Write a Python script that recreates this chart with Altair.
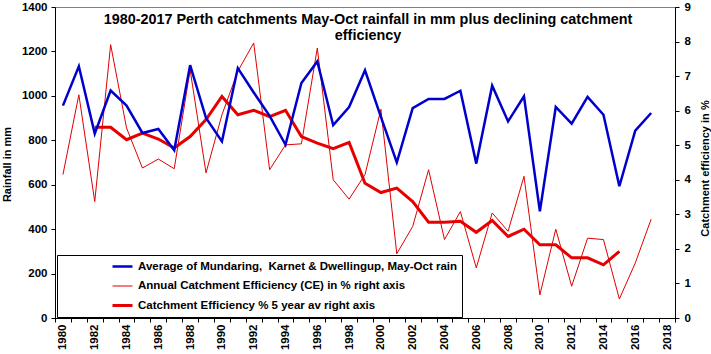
import altair as alt
import pandas as pd

# ---------------- data ----------------
years = list(range(1980, 2018))
rain = [956, 1133, 830, 1024, 956, 833, 851, 755, 1138, 900,
        795, 1125, 1015, 910, 780, 1058, 1155, 868, 950, 1115,
        905, 700, 945, 986, 986, 1023, 695, 1046, 885, 998,
        480, 950, 875, 995, 915, 593, 843, 923]
ce_annual = [4.15, 6.46, 3.37, 7.91, 5.5, 4.34, 4.6, 4.32, 7.18, 4.2,
             5.88, 7.14, 7.96, 4.29, 5.01, 5.04, 7.81, 4.0, 3.44, 4.15,
             6.04, 1.86, 2.65, 4.29, 2.27, 3.08, 1.45, 3.04, 2.51, 4.10,
             0.67, 2.57, 0.92, 2.31, 2.27, 0.55, 1.59, 2.86]
ce5_years = list(range(1982, 2016))
ce5 = [5.52, 5.52, 5.16, 5.35, 5.18, 4.92, 5.25, 5.74,
       6.41, 5.88, 6.01, 5.83, 6.01, 5.25, 5.06, 4.9, 5.08, 3.9,
       3.63, 3.76, 3.37, 2.77, 2.77, 2.80, 2.48, 2.82, 2.36, 2.57,
       2.12, 2.12, 1.74, 1.74, 1.54, 1.93]
axis_years = list(range(1980, 2019))
left_ticks = list(range(0, 1401, 200))
right_ticks = list(range(0, 10))

S_RAIN = "Average of Mundaring,\u00a0 Karnet & Dwellingup, May-Oct rain"
S_CE = "Annual Catchment Efficiency (CE) in % right axis"
S_CE5 = "Catchment Efficiency % 5 year av right axis"
series_order = [S_RAIN, S_CE, S_CE5]
series_colors = ["#0000CC", "#E00000", "#E60000"]
series_widths = [2.5, 1, 3]

title_lines = ["1980-2017 Perth catchments May-Oct rainfall in mm plus declining catchment",
               "efficiency"]

df_rain = pd.DataFrame({"year": years, "value": rain, "series": S_RAIN})
df_red = pd.concat([
    pd.DataFrame({"year": years, "value": ce_annual, "series": S_CE}),
    pd.DataFrame({"year": ce5_years, "value": ce5, "series": S_CE5}),
])

FONT = "Liberation Sans"

x_enc = alt.X(
    "year:O",
    scale=alt.Scale(type="band", domain=axis_years, paddingInner=0, paddingOuter=0),
    bandPosition=0.5,
    axis=alt.Axis(
        title=None, values=axis_years,
        labelExpr="datum.value % 2 == 0 ? datum.label : ''",
        labelAngle=270, tickBand="extent", labelPadding=2,
    ),
)
color_enc = alt.Color("series:N", scale=alt.Scale(domain=series_order, range=series_colors),
                      legend=alt.Legend(title=None))
width_enc = alt.StrokeWidth("series:N",
                            scale=alt.Scale(type="ordinal", domain=series_order, range=series_widths),
                            legend=alt.Legend(title=None))

blue = alt.Chart(df_rain).mark_line().encode(
    x=x_enc,
    y=alt.Y("value:Q", scale=alt.Scale(domain=[0, 1400], nice=False),
            axis=alt.Axis(title="Rainfall in mm", values=left_ticks, orient="left", format="d",
                          titleX=-48, titleY=157, titleAngle=270, titleBaseline="middle")),
    color=color_enc,
    strokeWidth=width_enc,
)

red = alt.Chart(df_red).mark_line().encode(
    x=x_enc,
    y=alt.Y("value:Q", scale=alt.Scale(domain=[0, 9], nice=False),
            axis=alt.Axis(title="Catchment efficiency in %", values=right_ticks, orient="right",
                          format="d",
                          titleX=30, titleY=161, titleAngle=270, titleBaseline="middle",
                          labelPadding=5)),
    color=color_enc,
    strokeWidth=width_enc,
)

title = alt.Chart(pd.DataFrame({"k": [0]})).mark_text(
    text=title_lines, font=FONT, fontSize=14.4, fontWeight="bold", color="black",
    align="center", baseline="alphabetic", lineHeight=16,
).encode(x=alt.value(313), y=alt.value(17))

chart = alt.layer(red, blue, title).resolve_scale(y="independent").properties(
    width=620, height=311,
    autosize=alt.AutoSizeParams(type="none"),
    padding={"left": 55, "top": 7, "right": 36, "bottom": 36},
    background="white",
).configure_view(
    stroke="#808080", strokeWidth=1,
).configure_axis(
    grid=False, domainColor="black", tickColor="black", labelColor="black",
    labelFont=FONT, labelFontSize=11.5, labelFontWeight="bold",
    titleFont=FONT, titleFontSize=11, titleFontWeight="bold", titleColor="black",
    tickSize=4, labelPadding=4,
).configure_legend(
    orient="none", legendX=2, legendY=248, padding=4,
    strokeColor="black", fillColor="white",
    symbolType="stroke", symbolSize=400, symbolOffset=50, labelOffset=4,
    labelFont=FONT, labelFontSize=11.5, labelFontWeight="bold", labelColor="black",
    labelLimit=500, rowPadding=4.5, clipHeight=15,
)

chart.save("out.html", embed_options={"renderer": "svg", "actions": False})
